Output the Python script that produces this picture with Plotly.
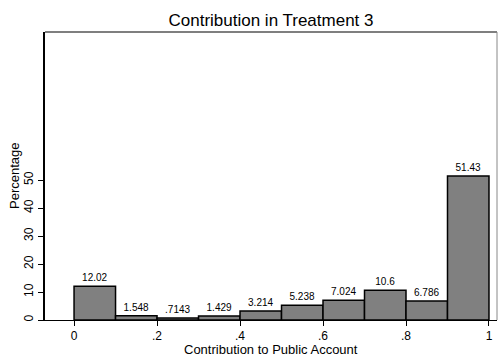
import plotly.graph_objects as go

# Data
bin_starts = [0.0, 0.1, 0.2, 0.3, 0.4, 0.5, 0.6, 0.7, 0.8, 0.9]
bin_width = 0.1
percentages = [12.02, 1.548, 0.7143, 1.429, 3.214, 5.238, 7.024, 10.6, 6.786, 51.43]
bar_labels = ["12.02", "1.548", ".7143", "1.429", "3.214", "5.238", "7.024", "10.6", "6.786", "51.43"]
x_tickvals = [0, 0.2, 0.4, 0.6, 0.8, 1.0]
x_ticktext = ["0", ".2", ".4", ".6", ".8", "1"]
y_tickvals = [0, 10, 20, 30, 40, 50]
y_ticktext = ["0", "10", "20", "30", "40", "50"]

centers = [s + bin_width / 2 for s in bin_starts]

FONT = "Liberation Sans, Arial, sans-serif"

fig = go.Figure(
    go.Bar(
        x=centers,
        y=percentages,
        width=[bin_width] * len(centers),
        text=bar_labels,
        textposition="outside",
        textfont=dict(family=FONT, size=10, color="#000"),
        cliponaxis=False,
        marker=dict(color="#808080", line=dict(color="#000", width=1.5)),
    )
)

fig.update_layout(
    width=498,
    height=358,
    margin=dict(l=45, r=1, t=32, b=38),
    paper_bgcolor="white",
    plot_bgcolor="white",
    font=dict(family=FONT, color="#000"),
    showlegend=False,
    title=dict(
        text="Contribution in Treatment 3",
        x=(45 + 497) / 2 / 498,
        xanchor="center",
        y=1 - 20 / 358,
        yanchor="middle",
        yref="container",
        font=dict(family=FONT, size=17, color="#000"),
    ),
    xaxis=dict(
        range=[-0.07, 1.0193],
        tickvals=x_tickvals,
        ticktext=x_ticktext,
        ticks="outside",
        ticklen=5,
        tickcolor="#000",
        tickwidth=1,
        showgrid=False,
        zeroline=False,
        showline=True,
        linecolor="#000",
        linewidth=1,
        tickfont=dict(family=FONT, size=12),
    ),
    yaxis=dict(
        range=[0, 102.86],
        tickvals=y_tickvals,
        ticktext=y_ticktext,
        tickangle=-90,
        ticks="outside",
        ticklen=5,
        tickcolor="#000",
        tickwidth=1,
        showgrid=False,
        zeroline=False,
        showline=True,
        linecolor="#000",
        linewidth=1.5,
        tickfont=dict(family=FONT, size=12),
    ),
    annotations=[
        dict(text="Contribution to Public Account", xref="paper", yref="paper",
             x=0.5, y=0, yshift=-29, xanchor="center", yanchor="middle",
             showarrow=False, font=dict(family=FONT, size=13, color="#000")),
        dict(text="Percentage", xref="paper", yref="paper", textangle=-90,
             x=0, y=0.5, xshift=-31, xanchor="center", yanchor="middle",
             showarrow=False, font=dict(family=FONT, size=13, color="#000")),
    ],
    shapes=[
        dict(type="line", xref="paper", yref="paper", x0=0, x1=1, y0=1, y1=1,
             line=dict(color="#555", width=1.5)),
        dict(type="line", xref="paper", yref="paper", x0=1, x1=1, y0=0, y1=1,
             line=dict(color="#888", width=1)),
    ],
)

fig.write_html(
    "out.html",
    config={"displayModeBar": False},
    post_script="document.body.style.margin='0';document.body.style.overflow='hidden';",
)
